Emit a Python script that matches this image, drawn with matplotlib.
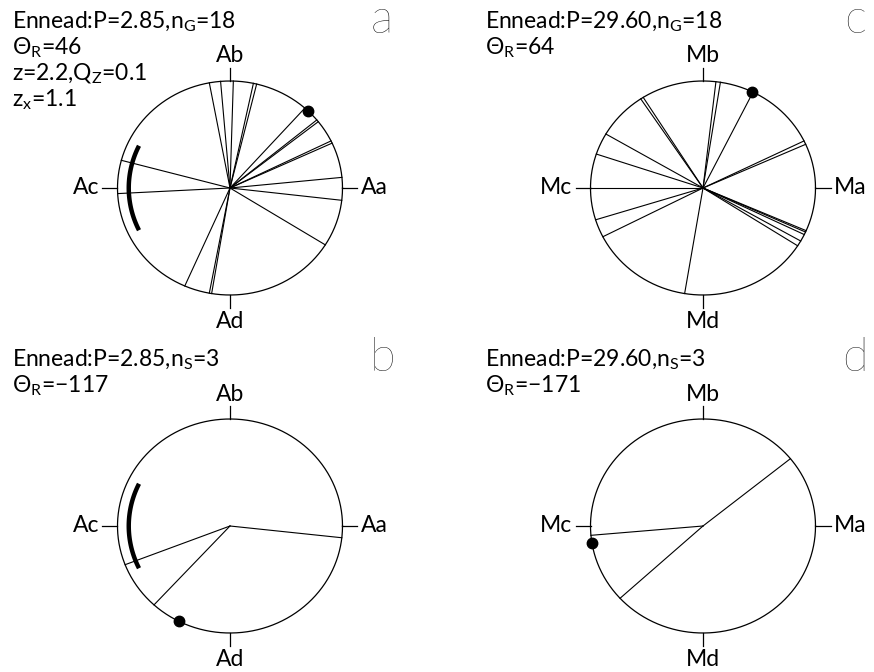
import numpy as np
import matplotlib
matplotlib.use('Agg')
import matplotlib.pyplot as plt

# 每个面板的数据: 线的角度(度), 圆点角度, 文本
theta_a = [100.6, 94.8, 88.3, 78.0, 76.3, 48.3, 39.5, 38.3, 26.1, 24.8,
           5.7, -6.6, -32.1, -99.4, -100.6, -113.7, -177.0, 165.0]
theta_b = [-6.3, -158.8, -132.5]
theta_c = [83.4, 81.1, 63.6, 123.6, 122.1, 149.7, 161.5, 180.0, -162.7,
           -152.9, -99.4, -23.5, -24.3, -25.8, -29.7, -32.7, 26.1, 24.1]
theta_d = [39.0, -137.5, -175.0]
dot_a, dot_b, dot_c, dot_d = 46, -117, 64, -171
arc_range = [154, 206]   # 粗弧的角度范围
labels_A = ['Aa', 'Ab', 'Ac', 'Ad']
labels_M = ['Ma', 'Mb', 'Mc', 'Md']
text_a = ['Ennead:P=2.85,n$_{\\rm G}$=18', '\u0398$_{\\rm R}$=46',
          'z=2.2,Q$_{\\rm Z}$=0.1', 'z$_{\\rm x}$=1.1']
text_b = ['Ennead:P=2.85,n$_{\\rm S}$=3', '\u0398$_{\\rm R}$=\u2212117']
text_c = ['Ennead:P=29.60,n$_{\\rm G}$=18', '\u0398$_{\\rm R}$=64']
text_d = ['Ennead:P=29.60,n$_{\\rm S}$=3', '\u0398$_{\\rm R}$=\u2212171']

FONT = 'Lato'
plt.rcParams['font.family'] = [FONT, 'DejaVu Sans']
plt.rcParams['mathtext.fontset'] = 'custom'
plt.rcParams['mathtext.rm'] = FONT

W, H = 874, 672
RX, RY = 112.5, 107.0   # 圆在像素中的半径

fig = plt.figure(figsize=(W/100, H/100), dpi=100)

def panel(cx, cy, thetas, dot, labels, texts, letter, arc=False):
    # 以圆心为原点建立坐标轴, 单位为圆半径
    left, right, top, bot = 230, 160, 188, 145
    ax = fig.add_axes([(cx-left)/W, (H-(cy+bot))/H, (left+right)/W, (top+bot)/H])
    ax.set_xlim(-left/RX, right/RX)
    ax.set_ylim(-bot/RY, top/RY)
    ax.axis('off')
    t = np.linspace(0, 2*np.pi, 400)
    ax.plot(np.cos(t), np.sin(t), color='black', lw=0.9)
    for th in thetas:
        r = np.radians(th)
        ax.plot([0, np.cos(r)], [0, np.sin(r)], color='black', lw=0.8)
    # 四个方向的刻度
    tx, ty = 15/RX, 13/RY
    ax.plot([1, 1+tx], [0, 0], color='black', lw=0.9)
    ax.plot([0, 0], [1, 1+ty], color='black', lw=0.9)
    ax.plot([-1, -1-tx], [0, 0], color='black', lw=0.9)
    ax.plot([0, 0], [-1, -1-ty], color='black', lw=0.9)
    fs = 16.5
    ax.text(1+18/RX, 0, labels[0], ha='left', va='center', fontsize=fs)
    ax.text(0, 1+25/RY, labels[1], ha='center', va='center', fontsize=fs)
    ax.text(-1-18/RX, 0, labels[2], ha='right', va='center', fontsize=fs)
    ax.text(0, -1-26/RY, labels[3], ha='center', va='center', fontsize=fs)
    if arc:
        a = np.radians(np.linspace(arc_range[0], arc_range[1], 100))
        ax.plot(0.9*np.cos(a), 0.9*np.sin(a), color='black', lw=3.2,
                solid_capstyle='butt')
    r = np.radians(dot)
    ax.plot(np.cos(r), np.sin(r), 'o', color='black', ms=7.5)
    # 左上角文字
    for i, s in enumerate(texts):
        ax.text(-left/RX + 12/RX, (top - 28 - 26*i)/RY, s, ha='left',
                va='baseline', fontsize=fs)
    ax.text(152/RX, (top-33)/RY, letter, ha='center', va='baseline',
            fontsize=34, family=FONT, weight='light')

panel(230, 188, theta_a, dot_a, labels_A, text_a, 'a', arc=True)
panel(230, 526, theta_b, dot_b, labels_A, text_b, 'b', arc=True)
panel(703, 188, theta_c, dot_c, labels_M, text_c, 'c')
panel(703, 526, theta_d, dot_d, labels_M, text_d, 'd')

fig.savefig('out.png', dpi=100, facecolor='white')
